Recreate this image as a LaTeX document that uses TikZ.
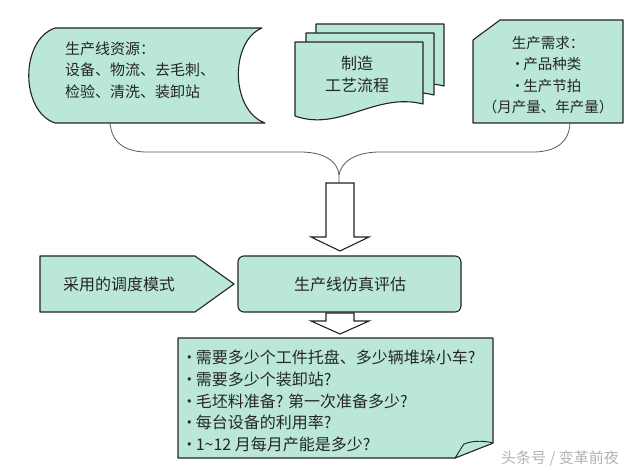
\documentclass[tikz,border=0pt]{standalone}
\usepackage{fontspec}
\setmainfont{Noto Sans CJK SC}
\usetikzlibrary{calc}
\definecolor{boxfill}{RGB}{186,231,218}
\definecolor{boxline}{RGB}{35,35,35}
\newcommand\dotb{\kern-0.3em·\kern-0.1em}

\begin{document}
\begin{tikzpicture}[x=1pt,y=-1pt,
  every node/.style={inner sep=0pt,text=black!85},
  boxpath/.style={fill=boxfill,draw=boxline,line width=1.1pt,line join=round},
  arrowpath/.style={fill=white,draw=boxline,line width=1.1pt},
  bracepath/.style={draw=black!65,line width=0.8pt},
  txt/.style={font=\fontsize{15}{21.5}\selectfont},
  bigtxt/.style={font=\fontsize{16}{22}\selectfont}]
\useasboundingbox (0,0) rectangle (640,473);

% top row: resources, process sheets, demand
\draw[boxpath] (262,28) -- (55,28) .. controls (20,40) and (20,111) .. (55,123)
  -- (265,123) .. controls (230,110) and (230,41) .. (262,28) -- cycle;
\node[txt,align=left,anchor=west] (res) at (65,70) {生产线资源：\\设备、物流、去毛刺、\\检验、清洗、装卸站};

\foreach \dx/\dy in {21/-18,11/-9,0/0}
  \draw[boxpath,shift={(\dx,\dy)}] (295,42) -- (423,42) -- (423,104)
    .. controls (375,92) and (340,132) .. (295,116) -- cycle;
\node[bigtxt,align=center] (proc) at (357,74) {制造\\工艺流程};

\draw[boxpath] (500,20) -- (623,20) -- (623,123) -- (473,123) -- (473,40) -- cycle;
\node[font=\fontsize{14.5}{21.5}\selectfont,align=center] (need) at (548,75)
  {生产需求：\\\dotb 产品种类\\\dotb 生产节拍\\（月产量、年产量）};

% brace gathering the three inputs
\coordinate (resb) at (110,123);
\coordinate (needb) at (570,123);
\coordinate (join) at (339,175);
\coordinate (arrtop) at (339,183);
\draw[bracepath] (resb) .. controls (112,145) and (128,152) .. (147,152) -- (300,152)
  .. controls (325,152) and (338,162) .. (join) -- (arrtop);
\draw[bracepath] (join) .. controls (341,162) and (355,152) .. (380,152) -- (533,152)
  .. controls (552,152) and (569,145) .. (needb);

% block arrows
\foreach \top/\neck/\tip in {183/237/251,313/321/334}
  \draw[arrowpath] (326,\top) -- (326,\neck) -- (311,\neck) -- (340,\tip)
    -- (369,\neck) -- (354,\neck) -- (354,\top) -- cycle;

% middle row
\draw[boxpath] (40,256) -- (195,256) -- (234,284) -- (195,312) -- (40,312) -- cycle;
\node[bigtxt] (mode) at (119,284) {采用的调度模式};
\draw[boxpath,rounded corners=6pt] (238,256) rectangle (461,312);
\node[bigtxt] (eval) at (350,284) {生产线仿真评估};

% questions note
\draw[boxpath] (178,338) -- (493,338) -- (493,443) -- (455,458) -- (178,458) -- cycle;
\draw[boxpath,line width=0.9pt] (455,458) .. controls (459,452) and (461,448) .. (464,444)
  .. controls (474,440) and (486,441) .. (493,443) -- cycle;
\node[font=\fontsize{16}{21.8}\selectfont,align=left,anchor=west] (ques) at (186,401)
  {\dotb 需要多少个工件托盘、多少辆堆垛小车?\\\dotb 需要多少个装卸站?\\\dotb 毛坯料准备? 第一次准备多少?\\\dotb 每台设备的利用率?\\\dotb 1\textasciitilde12 月每月产能是多少?};

\node[font=\fontsize{15}{18}\selectfont,text=black!30] (mark) at (560,458) {头条号 / 变革前夜};
\end{tikzpicture}
\end{document}
